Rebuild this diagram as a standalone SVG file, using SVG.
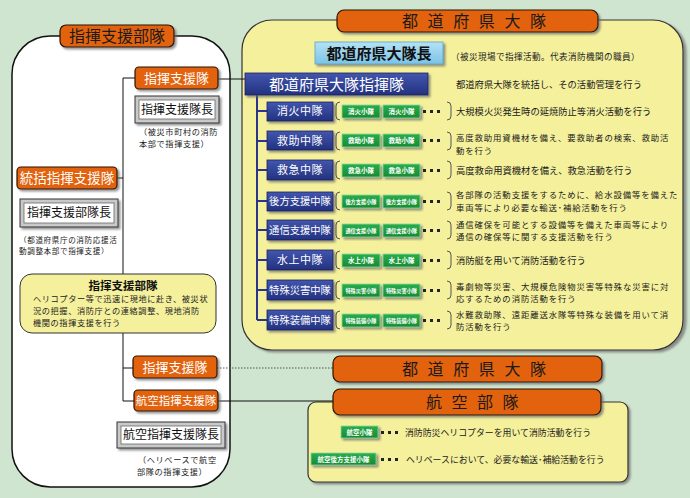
<svg xmlns="http://www.w3.org/2000/svg" width="690" height="498" viewBox="0 0 690 498">
<defs>
<filter id="sh" x="-10%" y="-10%" width="130%" height="140%"><feDropShadow dx="2" dy="2" stdDeviation="0.8" flood-color="#666" flood-opacity="0.7"/></filter>
<filter id="shp" x="-5%" y="-5%" width="110%" height="110%"><feDropShadow dx="3" dy="2" stdDeviation="1" flood-color="#777" flood-opacity="0.8"/></filter>
<linearGradient id="gb" x1="0" y1="0" x2="0" y2="1"><stop offset="0" stop-color="#4256ae"/><stop offset="1" stop-color="#23327f"/></linearGradient>
<linearGradient id="glb" x1="0" y1="0" x2="0" y2="1"><stop offset="0" stop-color="#b4e2f5"/><stop offset="1" stop-color="#7cc3e6"/></linearGradient>
<linearGradient id="gg" x1="0" y1="0" x2="0" y2="1"><stop offset="0" stop-color="#2aae4c"/><stop offset="1" stop-color="#168a34"/></linearGradient>
<style>
text{font-family:"Noto Sans CJK JP","Noto Sans CJK SC",sans-serif;}
.or{fill:#e2620f;stroke:#2a1200;stroke-width:1.2;filter:url(#sh);}
.ow{fill:#fff;font-size:13px;text-anchor:middle;}
.ob{fill:#1a1a1a;font-size:16px;}
.bv{fill:#c9c9c9;stroke:#333;stroke-width:1;filter:url(#sh);}
.bvi{fill:#fff;stroke:#666;stroke-width:0.8;}
.bt{fill:#111;font-size:12px;text-anchor:middle;}
.note{fill:#222;font-size:8.2px;letter-spacing:0.6px;}
.bl{fill:url(#gb);stroke:#1a2460;stroke-width:0.8;filter:url(#sh);}
.blt{fill:#fff;font-size:11px;text-anchor:middle;letter-spacing:0.5px;}
.gr{fill:url(#gg);stroke:#8fd8a0;stroke-width:0.8;filter:url(#sh);}
.grt{fill:#fff;font-size:6.5px;text-anchor:middle;font-weight:700;}
.grs{fill:#fff;font-size:5.2px;text-anchor:middle;font-weight:700;}
.desc{fill:#1a1a1a;font-size:9.3px;}
.d2{fill:#1a1a1a;font-size:8.4px;letter-spacing:0.9px;}
.ybt{font-size:8.2px;letter-spacing:0.6px;fill:#222;}
.br{fill:none;stroke:#555;stroke-width:1;}
.dot{fill:#222;}
.ln{stroke:#111;stroke-width:1;fill:none;}
.bln{stroke:#2a3788;stroke-width:2;fill:none;}
</style>
</defs>
<rect width="690" height="498" fill="#d0e5d0"/>

<!-- panels -->
<rect id="left-panel" x="12" y="36" width="218" height="451" rx="38" fill="#fff" stroke="#111" stroke-width="1.5"/>
<rect id="right-panel" x="242" y="20" width="441" height="330" rx="30" fill="#f4f09c" stroke="#333" stroke-width="1.2" filter="url(#shp)"/>
<rect id="air-panel" x="308" y="402" width="320" height="80" rx="8" fill="#f4f09c" stroke="#333" stroke-width="1.2" filter="url(#sh)"/>

<g id="connectors">
<path class="ln" d="M123 78 H135 M123 78 V401 M117 178 H123 M123 368 H133 M123 401 H134"/>
<path class="ln" d="M218 79 H245"/>
<path d="M217 368 H333" stroke="#555" stroke-width="1" stroke-dasharray="1.5,1.5" fill="none"/>
<path class="ln" d="M218 401 H333"/>
<path class="bln" d="M257 95 V320 M257 111 H267 M257 141 H267 M257 170 H267 M257 201 H267 M257 230 H267 M257 260 H267 M257 290 H267 M257 320 H267"/>
</g>

<!-- left side -->
<g id="shiki-shien-butai-title">
<rect class="or" x="60" y="25" width="114" height="22" rx="6"/>
<text class="ob" x="117" y="42" text-anchor="middle">指揮支援部隊</text>
</g>
<g id="shiki-shientai-1">
<rect class="or" x="135" y="67" width="83" height="22" rx="4"/>
<text class="ow" x="176.5" y="83">指揮支援隊</text>
</g>
<g id="shiki-shientai-cho">
<rect class="bv" x="135" y="96" width="84" height="27"/>
<rect class="bvi" x="139" y="100" width="76" height="19"/>
<text class="bt" x="177" y="114">指揮支援隊長</text>
<text class="note" x="139" y="135">（被災市町村の消防</text>
<text class="note" x="139" y="147">本部で指揮支援）</text>
</g>
<g id="tokatsu">
<rect class="or" x="17" y="167" width="100" height="22" rx="4"/>
<text class="ow" x="67" y="183" style="font-size:13.5px">統括指揮支援隊</text>
</g>
<g id="butai-cho">
<rect class="bv" x="20" y="199" width="98" height="28"/>
<rect class="bvi" x="24" y="203" width="90" height="20"/>
<text class="bt" x="69" y="217">指揮支援部隊長</text>
<text class="note" x="19" y="242.5" style="font-size:7.6px">（都道府県庁の消防応援活</text>
<text class="note" x="19" y="254" style="font-size:7.6px">動調整本部で指揮支援）</text>
</g>
<g id="butai-desc">
<rect x="20" y="274" width="196" height="59" rx="12" fill="#f4f09c" stroke="#333" stroke-width="1"/>
<text x="123" y="290" text-anchor="middle" style="font-size:11.5px;font-weight:700;fill:#111">指揮支援部隊</text>
<text class="ybt" x="33" y="302">ヘリコプター等で迅速に現地に赴き、被災状</text>
<text class="ybt" x="33" y="314">況の把握、消防庁との連絡調整、現地消防</text>
<text class="ybt" x="33" y="326">機関の指揮支援を行う</text>
</g>
<g id="shiki-shientai-2">
<rect class="or" x="133" y="356" width="84" height="22" rx="4"/>
<text class="ow" x="175" y="372">指揮支援隊</text>
</g>
<g id="koku-shiki-shientai">
<rect class="or" x="134" y="390" width="84" height="21" rx="4"/>
<text class="ow" x="176" y="405" style="font-size:11.5px">航空指揮支援隊</text>
</g>
<g id="koku-shiki-shientai-cho">
<rect class="bv" x="117" y="422" width="108" height="26"/>
<rect class="bvi" x="121" y="426" width="100" height="18"/>
<text class="bt" x="171" y="439">航空指揮支援隊長</text>
<text class="note" x="138" y="463">（ヘリベースで航空</text>
<text class="note" x="137" y="475">部隊の指揮支援）</text>
</g>

<!-- right side -->
<g id="todofuken-taitai-title">
<rect class="or" x="337" y="10" width="261" height="22" rx="7"/>
<text class="ob" x="402" y="27" style="letter-spacing:9.6px">都道府県大隊</text>
</g>
<g id="taitai-cho">
<rect x="315" y="42" width="128" height="22" fill="url(#glb)" stroke="#5aa7c8" stroke-width="0.8" filter="url(#sh)"/>
<text x="379" y="59" text-anchor="middle" style="font-size:15px;font-weight:700;fill:#111">都道府県大隊長</text>
<text class="note" x="451" y="60" style="font-size:8.6px;letter-spacing:0.4px">（被災現場で指揮活動。代表消防機関の職員）</text>
</g>
<g id="shikitai">
<rect class="bl" x="245" y="73" width="183" height="22"/>
<text x="336.5" y="90" text-anchor="middle" style="font-size:15px;fill:#fff">都道府県大隊指揮隊</text>
<text class="desc" x="456" y="88">都道府県大隊を統括し、その活動管理を行う</text>
</g>

<g id="shoka">
<rect class="bl" x="267" y="102" width="66" height="19"/>
<text class="blt" x="300" y="115">消火中隊</text>
<path class="br" d="M340 102 Q336 102 336 106 V116 Q336 120 340 120 M447 102 Q451 102 451 106 V116 Q451 120 447 120"/>
<rect class="gr" x="342" y="105" width="38" height="13"/><text class="grt" x="361" y="114">消火小隊</text>
<rect class="gr" x="383" y="105" width="37" height="13"/><text class="grt" x="401.5" y="114">消火小隊</text>
<rect class="dot" x="423" y="110" width="3" height="3"/><rect class="dot" x="430" y="110" width="3" height="3"/><rect class="dot" x="437" y="110" width="3" height="3"/>
<text class="desc" x="456" y="115">大規模火災発生時の延焼防止等消火活動を行う</text>
</g>
<g id="kyujo">
<rect class="bl" x="267" y="131" width="66" height="19"/>
<text class="blt" x="300" y="144.5">救助中隊</text>
<path class="br" d="M340 132 Q336 132 336 136 V146 Q336 150 340 150 M447 132 Q451 132 451 136 V146 Q451 150 447 150"/>
<rect class="gr" x="342" y="134" width="38" height="13"/><text class="grt" x="361" y="143">救助小隊</text>
<rect class="gr" x="383" y="134" width="37" height="13"/><text class="grt" x="401.5" y="143">救助小隊</text>
<rect class="dot" x="423" y="139" width="3" height="3"/><rect class="dot" x="430" y="139" width="3" height="3"/><rect class="dot" x="437" y="139" width="3" height="3"/>
<text class="d2" x="456" y="141">高度救助用資機材を備え、要救助者の検索、救助活</text>
<text class="d2" x="456" y="153.5">動を行う</text>
</g>
<g id="kyukyu">
<rect class="bl" x="267" y="160" width="66" height="20"/>
<text class="blt" x="300" y="174">救急中隊</text>
<path class="br" d="M340 161 Q336 161 336 165 V175 Q336 179 340 179 M447 161 Q451 161 451 165 V175 Q451 179 447 179"/>
<rect class="gr" x="342" y="164" width="38" height="13"/><text class="grt" x="361" y="173">救急小隊</text>
<rect class="gr" x="383" y="164" width="37" height="13"/><text class="grt" x="401.5" y="173">救急小隊</text>
<rect class="dot" x="423" y="169" width="3" height="3"/><rect class="dot" x="430" y="169" width="3" height="3"/><rect class="dot" x="437" y="169" width="3" height="3"/>
<text class="desc" x="456" y="174">高度救命用資機材を備え、救急活動を行う</text>
</g>
<g id="koho">
<rect class="bl" x="267" y="192" width="66" height="19"/>
<text class="blt" x="300" y="205" style="font-size:10.3px;letter-spacing:0">後方支援中隊</text>
<path class="br" d="M340 192 Q336 192 336 196 V206 Q336 210 340 210 M447 192 Q451 192 451 196 V206 Q451 210 447 210"/>
<rect class="gr" x="342" y="195" width="38" height="13"/><text class="grs" x="361" y="203.5">後方支援小隊</text>
<rect class="gr" x="383" y="195" width="37" height="13"/><text class="grs" x="401.5" y="203.5">後方支援小隊</text>
<rect class="dot" x="423" y="200" width="3" height="3"/><rect class="dot" x="430" y="200" width="3" height="3"/><rect class="dot" x="437" y="200" width="3" height="3"/>
<text class="d2" x="456" y="198">各部隊の活動支援をするために、給水設備等を備えた</text>
<text class="d2" x="456" y="210.5">車両等により必要な輸送･補給活動を行う</text>
</g>
<g id="tsushin">
<rect class="bl" x="267" y="220" width="66" height="20"/>
<text class="blt" x="300" y="234" style="font-size:10.3px;letter-spacing:0">通信支援中隊</text>
<path class="br" d="M340 221 Q336 221 336 225 V235 Q336 239 340 239 M447 221 Q451 221 451 225 V235 Q451 239 447 239"/>
<rect class="gr" x="342" y="224" width="38" height="13"/><text class="grs" x="361" y="232.5">通信支援小隊</text>
<rect class="gr" x="383" y="224" width="37" height="13"/><text class="grs" x="401.5" y="232.5">通信支援小隊</text>
<rect class="dot" x="423" y="229" width="3" height="3"/><rect class="dot" x="430" y="229" width="3" height="3"/><rect class="dot" x="437" y="229" width="3" height="3"/>
<text class="d2" x="456" y="227.5">通信確保を可能とする設備等を備えた車両等により</text>
<text class="d2" x="456" y="240">通信の確保等に関する支援活動を行う</text>
</g>
<g id="suijo">
<rect class="bl" x="267" y="250" width="66" height="20"/>
<text class="blt" x="300" y="264">水上中隊</text>
<path class="br" d="M340 251 Q336 251 336 255 V265 Q336 269 340 269 M447 251 Q451 251 451 255 V265 Q451 269 447 269"/>
<rect class="gr" x="342" y="254" width="38" height="13"/><text class="grt" x="361" y="263">水上小隊</text>
<rect class="gr" x="383" y="254" width="37" height="13"/><text class="grt" x="401.5" y="263">水上小隊</text>
<rect class="dot" x="423" y="259" width="3" height="3"/><rect class="dot" x="430" y="259" width="3" height="3"/><rect class="dot" x="437" y="259" width="3" height="3"/>
<text class="desc" x="456" y="264">消防艇を用いて消防活動を行う</text>
</g>
<g id="tokushu-saigai">
<rect class="bl" x="267" y="280" width="66" height="20"/>
<text class="blt" x="300" y="294" style="font-size:10.3px;letter-spacing:0">特殊災害中隊</text>
<path class="br" d="M340 281 Q336 281 336 285 V295 Q336 299 340 299 M447 281 Q451 281 451 285 V295 Q451 299 447 299"/>
<rect class="gr" x="342" y="284" width="38" height="13"/><text class="grs" x="361" y="292.5">特殊災害小隊</text>
<rect class="gr" x="383" y="284" width="37" height="13"/><text class="grs" x="401.5" y="292.5">特殊災害小隊</text>
<rect class="dot" x="423" y="289" width="3" height="3"/><rect class="dot" x="430" y="289" width="3" height="3"/><rect class="dot" x="437" y="289" width="3" height="3"/>
<text class="d2" x="456" y="289.5">毒劇物等災害、大規模危険物災害等特殊な災害に対</text>
<text class="d2" x="456" y="302">応するための消防活動を行う</text>
</g>
<g id="tokushu-sobi">
<rect class="bl" x="267" y="310" width="66" height="20"/>
<text class="blt" x="300" y="324" style="font-size:10.3px;letter-spacing:0">特殊装備中隊</text>
<path class="br" d="M340 311 Q336 311 336 315 V325 Q336 329 340 329 M447 311 Q451 311 451 315 V325 Q451 329 447 329"/>
<rect class="gr" x="342" y="314" width="38" height="13"/><text class="grs" x="361" y="322.5">特殊装備小隊</text>
<rect class="gr" x="383" y="314" width="37" height="13"/><text class="grs" x="401.5" y="322.5">特殊装備小隊</text>
<rect class="dot" x="423" y="319" width="3" height="3"/><rect class="dot" x="430" y="319" width="3" height="3"/><rect class="dot" x="437" y="319" width="3" height="3"/>
<text class="d2" x="456" y="317.5">水難救助隊、遠距離送水隊等特殊な装備を用いて消</text>
<text class="d2" x="456" y="330">防活動を行う</text>
</g>

<!-- bottom -->
<g id="todofuken-taitai-bottom">
<rect class="or" x="333" y="356" width="269" height="26" rx="7"/>
<text class="ob" x="402" y="375" style="letter-spacing:9.6px">都道府県大隊</text>
</g>
<g id="koku-butai">
<rect class="or" x="333" y="389" width="268" height="26" rx="7"/>
<text class="ob" x="426" y="408" style="letter-spacing:9.5px">航空部隊</text>
</g>
<g id="koku-shotai">
<rect class="gr" x="341" y="426" width="37" height="12"/><text class="grt" x="359.5" y="434.5">航空小隊</text>
<rect class="dot" x="381" y="431" width="3" height="3"/><rect class="dot" x="388" y="431" width="3" height="3"/><rect class="dot" x="395" y="431" width="3" height="3"/>
<text class="desc" x="405" y="435.5" style="font-size:8.9px">消防防災ヘリコプターを用いて消防活動を行う</text>
</g>
<g id="koku-koho-shotai">
<rect class="gr" x="311" y="453" width="65" height="12"/><text class="grt" x="343.5" y="461.5">航空後方支援小隊</text>
<rect class="dot" x="381" y="458" width="3" height="3"/><rect class="dot" x="388" y="458" width="3" height="3"/><rect class="dot" x="395" y="458" width="3" height="3"/>
<text class="desc" x="406" y="462.5" style="font-size:8.9px">ヘリベースにおいて、必要な輸送･補給活動を行う</text>
</g>
</svg>
